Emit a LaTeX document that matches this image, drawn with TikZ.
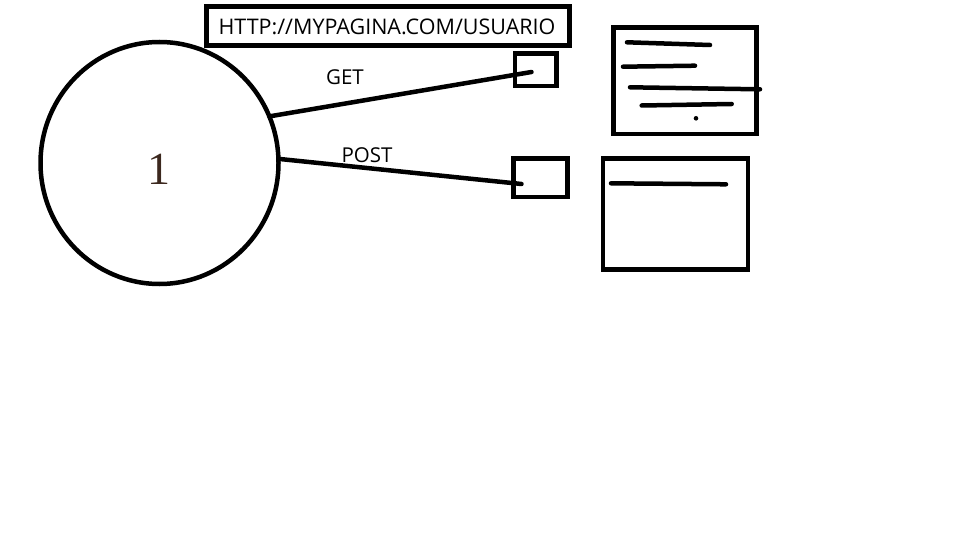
\documentclass[tikz,border=0pt]{standalone}
\usepackage{fontspec}
\setmainfont{Open Sans}
\newfontfamily\onefont{Liberation Serif}
\usetikzlibrary{shapes.geometric}
\definecolor{onecol}{RGB}{60,40,30}
\begin{document}
\begin{tikzpicture}[x=1pt,y=-1pt,
  box/.style={draw,line width=4.5pt,inner sep=0pt,outer sep=0pt,anchor=north west},
  stroke/.style={line width=4.5pt,line cap=round},
  lbl/.style={font=\fontsize{20.5}{24}\selectfont,inner sep=0pt}]
\useasboundingbox[fill=white] (0,0) rectangle (960,540);
% main circle
\node[draw,line width=4.5pt,ellipse,minimum width=238pt,minimum height=242pt,inner sep=0pt,outer sep=0pt] (circ) at (159.5,163) {};
\node[font=\onefont\fontsize{46}{50}\selectfont,text=onecol,inner sep=0pt] (one) at (158.5,169.5) {1};
% URL box
\node[box,minimum width=363pt,minimum height=39pt] (url) at (206.5,6.7) {};
\node[lbl,font=\fontsize{21.5}{24}\selectfont] (urltext) at (387,26.5) {HTTP://MYPAGINA.COM/USUARIO};
% small boxes
\node[box,minimum width=41.5pt,minimum height=32.5pt] (b1) at (515,53.5) {};
\node[box,minimum width=54pt,minimum height=38.5pt] (b2) at (513.5,158.5) {};
% pages
\node[box,minimum width=143pt,minimum height=106.5pt] (p1) at (613.5,27.5) {};
\node[box,minimum width=145pt,minimum height=111pt] (p2) at (603,158.5) {};
% connector end points
\coordinate (g2) at (531.5,72);
\coordinate (q2) at (521.5,184);
\draw[stroke] (circ.23) -- (g2);
\draw[stroke] (circ.2) -- (q2);
\node[lbl] (get) at (345,77.5) {GET};
\node[lbl] (post) at (367,155) {POST};
% page lines
\coordinate (l1a) at (627,42.3); \coordinate (l1b) at (710,45);
\coordinate (l2a) at (623,66.7); \coordinate (l2b) at (695,65.7);
\coordinate (l3a) at (630,87.3); \coordinate (l3b) at (760,89.3);
\coordinate (l4a) at (641.7,105.5); \coordinate (l4b) at (731.7,104);
\coordinate (l5a) at (611,183.3); \coordinate (l5b) at (726,184.3);
\draw[stroke] (l1a) -- (l1b);
\draw[stroke] (l2a) -- (l2b);
\draw[stroke] (l3a) -- (l3b);
\draw[stroke] (l4a) -- (l4b);
\draw[stroke] (l5a) -- (l5b);
\fill (696,118.3) circle (2.3pt);
\end{tikzpicture}
\end{document}
